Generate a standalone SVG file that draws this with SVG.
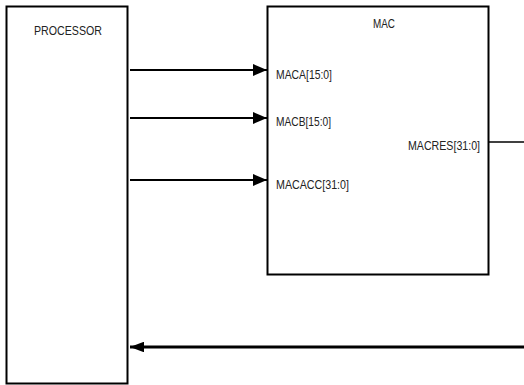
<svg xmlns="http://www.w3.org/2000/svg" width="524" height="385" viewBox="0 0 524 385">
<style>
.box{fill:#fff;stroke:#000;stroke-width:2}
.lbl{font-family:"Liberation Sans",Arial,sans-serif;font-size:13.5px;fill:#222}
.w{stroke:#000;stroke-width:2;fill:none}
</style>
<defs>
<marker id="ah" markerWidth="7" markerHeight="6" refX="7" refY="3" orient="auto" markerUnits="strokeWidth">
<path d="M0,0 L7,3 L0,6 Z" fill="#000"/>
</marker>
<marker id="ah2" markerWidth="4.5" markerHeight="3.4" refX="4.5" refY="1.7" orient="auto" markerUnits="strokeWidth">
<path d="M0,0 L4.5,1.7 L0,3.4 Z" fill="#000"/>
</marker>
</defs>
<rect width="524" height="385" fill="#fff"/>
<g id="processor">
<rect class="box" x="6.5" y="6.5" width="121" height="377"/>
<text class="lbl" x="34" y="35" textLength="68" lengthAdjust="spacingAndGlyphs">PROCESSOR</text>
</g>
<g id="mac">
<rect class="box" x="267.5" y="6.5" width="221" height="268"/>
<text class="lbl" x="373" y="27.5" textLength="22" lengthAdjust="spacingAndGlyphs">MAC</text>
<text class="lbl" x="276" y="78.5" textLength="56" lengthAdjust="spacingAndGlyphs">MACA[15:0]</text>
<text class="lbl" x="276" y="126" textLength="55" lengthAdjust="spacingAndGlyphs">MACB[15:0]</text>
<text class="lbl" x="276" y="189" textLength="73" lengthAdjust="spacingAndGlyphs">MACACC[31:0]</text>
<text class="lbl" x="408" y="149.5" textLength="72" lengthAdjust="spacingAndGlyphs">MACRES[31:0]</text>
</g>
<g id="connectors">
<line class="w" x1="130" y1="70" x2="267" y2="70" marker-end="url(#ah)"/>
<line class="w" x1="130" y1="118" x2="267" y2="118" marker-end="url(#ah)"/>
<line class="w" x1="130" y1="180" x2="267" y2="180" marker-end="url(#ah)"/>
<line x1="489" y1="142" x2="524" y2="142" stroke="#000" stroke-width="1.6"/>
<line x1="524" y1="347" x2="130" y2="347" stroke="#000" stroke-width="3.2" marker-end="url(#ah2)"/>
</g>
</svg>
